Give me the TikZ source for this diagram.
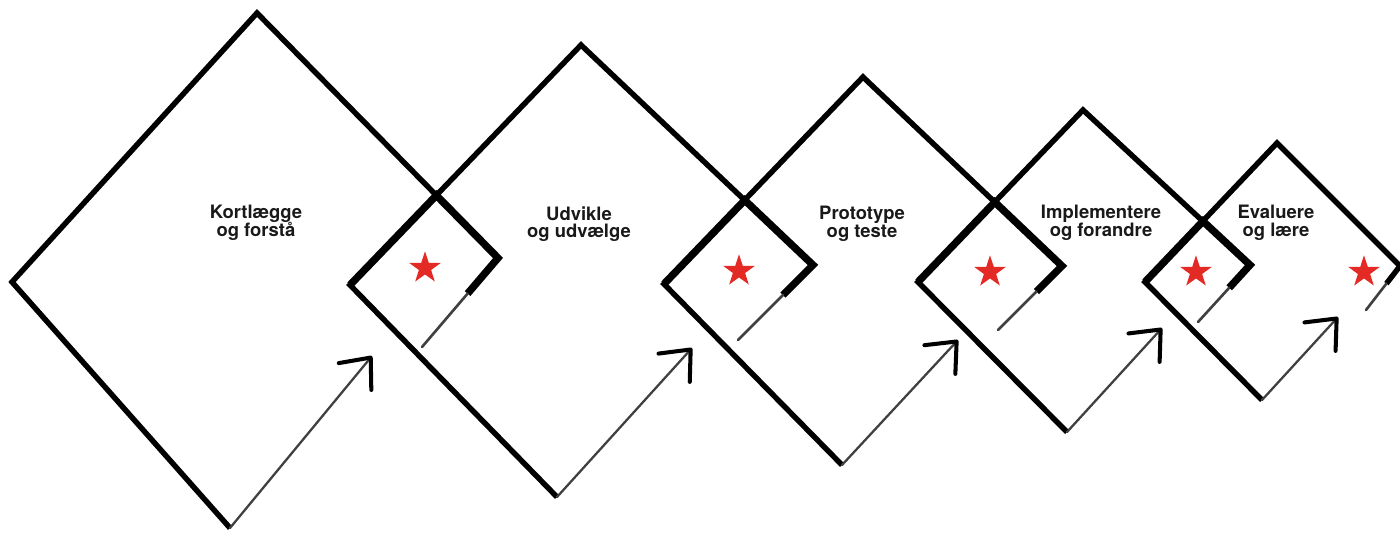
\documentclass[tikz,border=0pt]{standalone}
\usepackage{fontspec}
\setmainfont{TeX Gyre Heros}
\usepackage{tikz}
\usetikzlibrary{arrows.meta,shapes.geometric,calc}
\usepackage{xcolor}
\definecolor{starred}{HTML}{E42A25}

\tikzset{
  edge/.style={line width=3.1pt, line join=miter},
  overlap/.style={line width=4.2pt, line join=miter},
  shaft/.style={line width=1.3pt, draw=black!75, line cap=round,
    -{Straight Barb[length=14pt, width=24pt, line width=2.3pt, round, color=black]}},
  trace/.style={line width=1.5pt, draw=black!75, line cap=round},
  redstar/.style={star, star points=5, star point ratio=2.6, fill=starred, inner sep=0pt, minimum size=19pt},
  phase/.style={anchor=north, inner sep=0pt, align=center, text=black!90,
    font={\fontsize{10.5}{9.8}\selectfont\bfseries\lineskiplimit=-10pt}}
}

\begin{document}
\begin{tikzpicture}[x=0.02cm, y=-0.02cm]
    \useasboundingbox (0,0) rectangle (1400,532);

    % Diamond 1
    \coordinate (d1t) at (257,13);
    \coordinate (d1r) at (498,258);
    \coordinate (d1b) at (230,528);
    \coordinate (d1l) at (12,282);
    \draw[edge] (d1b) -- (d1l) -- (d1t) -- (d1r);
    \node[phase] (p1) at (256,205) {Kortlægge\\og forstå};

    % Diamond 2
    \coordinate (d2t) at (581,45);
    \coordinate (d2r) at (813,265);
    \coordinate (d2b) at (557,497);
    \coordinate (d2l) at (350,285);
    \draw[edge] (d2b) -- (d2l) -- (d2t) -- (d2r);
    \node[phase] (p2) at (579,206) {Udvikle\\og udvælge};

    % Diamond 3
    \coordinate (d3t) at (863,77);
    \coordinate (d3r) at (1062,266);
    \coordinate (d3b) at (842,465);
    \coordinate (d3l) at (664,284);
    \draw[edge] (d3b) -- (d3l) -- (d3t) -- (d3r);
    \node[phase] (p3) at (862,206) {Prototype\\og teste};

    % Diamond 4
    \coordinate (d4t) at (1083,110);
    \coordinate (d4r) at (1250,265);
    \coordinate (d4b) at (1067,432);
    \coordinate (d4l) at (918,282);
    \draw[edge] (d4b) -- (d4l) -- (d4t) -- (d4r);
    \node[phase] (p4) at (1101,205) {Implementere\\og forandre};

    % Diamond 5
    \coordinate (d5t) at (1277,143);
    \coordinate (d5r) at (1400,266);
    \coordinate (d5b) at (1262,400);
    \coordinate (d5l) at (1145,282);
    \draw[edge] (d5b) -- (d5l) -- (d5t) -- (d5r);
    \node[phase] (p5) at (1276,205) {Evaluere\\og lære};

    % Overlaps between neighbours
    \coordinate (s1) at (intersection of d1t--d1r and d2l--d2t);
    \coordinate (s2) at (intersection of d2t--d2r and d3l--d3t);
    \coordinate (s3) at (intersection of d3t--d3r and d4l--d4t);
    \coordinate (s4) at (intersection of d4t--d4r and d5l--d5t);
    \coordinate (f1) at (422,347);
    \coordinate (f2) at (738,340);
    \coordinate (f3) at (998,330);
    \coordinate (f4) at (1198,322);
    \coordinate (f5) at (1366,310);
    \draw[overlap] (d2l) -- (s1) -- (d1r) -- ($(d1r)!0.4!(f1)$);
    \draw[overlap] (d3l) -- (s2) -- (d2r) -- ($(d2r)!0.4!(f2)$);
    \draw[overlap] (d4l) -- (s3) -- (d3r) -- ($(d3r)!0.4!(f3)$);
    \draw[overlap] (d5l) -- (s4) -- (d4r) -- ($(d4r)!0.4!(f4)$);
    \draw[edge] (d5r) -- ($(d5r)!0.4!(f5)$);
    \draw[trace] ($(d1r)!0.4!(f1)$) -- (f1);
    \draw[trace] ($(d2r)!0.4!(f2)$) -- (f2);
    \draw[trace] ($(d3r)!0.4!(f3)$) -- (f3);
    \draw[trace] ($(d4r)!0.4!(f4)$) -- (f4);
    \draw[trace] ($(d5r)!0.4!(f5)$) -- (f5);

    % Stars
    \node[redstar] (st1) at (425,268) {};
    \node[redstar] (st2) at (739,271) {};
    \node[redstar] (st3) at (990,272) {};
    \node[redstar] (st4) at (1196,272) {};
    \node[redstar] (st5) at (1364,272) {};

    % Arrows
    \coordinate (a1) at (372,356);
    \coordinate (a2) at (692,348);
    \coordinate (a3) at (958,340);
    \coordinate (a4) at (1162,328);
    \coordinate (a5) at (1338,317);
    \draw[shaft] (d1b) -- (a1);
    \draw[shaft] (d2b) -- (a2);
    \draw[shaft] (d3b) -- (a3);
    \draw[shaft] (d4b) -- (a4);
    \draw[shaft] (d5b) -- (a5);
\end{tikzpicture}
\end{document}
